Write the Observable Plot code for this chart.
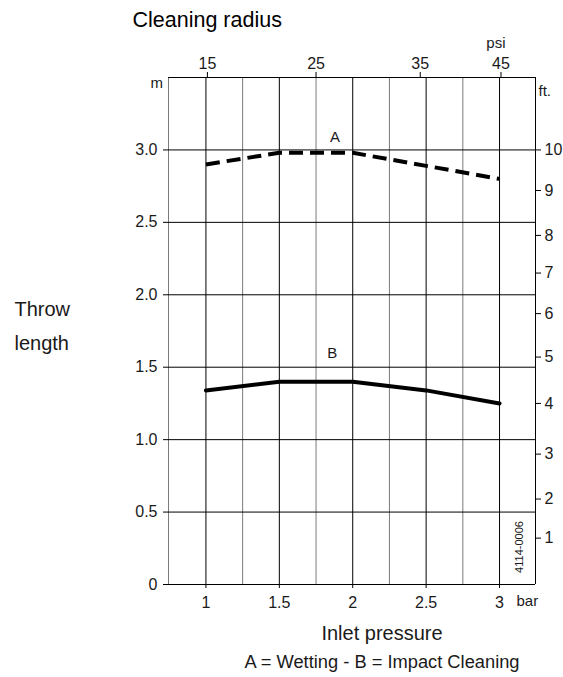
<!DOCTYPE html>
<html>
<head>
<meta charset="utf-8">
<script src="https://cdn.jsdelivr.net/npm/d3@7"></script>
<script src="https://cdn.jsdelivr.net/npm/@observablehq/plot@0.6"></script>
<style>
  html, body { margin: 0; padding: 0; background: #fff; }
  #chart svg { display: block; }
</style>
</head>
<body>
<div id="chart"></div>
<script>
// ---- Data ----
const pressureBar = [1, 1.5, 2, 2.5, 3];
const wettingA = [2.9, 2.98, 2.98, 2.89, 2.8];
const impactB = [1.34, 1.40, 1.40, 1.34, 1.25];

const seriesLabels = ["A", "B"];
const seriesLabelBar = [1.88, 1.86];
const seriesLabelM = [3.09, 1.6];

const barTicks = [1, 1.5, 2, 2.5, 3];
const barTickLabels = ["1", "1.5", "2", "2.5", "3"];
const minorGrid = [1.25, 1.75, 2.25, 2.75];
const mTicks = [0, 0.5, 1.0, 1.5, 2.0, 2.5, 3.0];
const mTickLabels = ["0", "0.5", "1.0", "1.5", "2.0", "2.5", "3.0"];
const psiTickLabels = ["15", "25", "35", "45"];
const psiTickBar = [1.01, 1.75, 2.46, 3.01];
const ftTickLabels = ["1", "2", "3", "4", "5", "6", "7", "8", "9", "10"];
const ftTickM = [0.32, 0.59, 0.90, 1.25, 1.57, 1.87, 2.15, 2.41, 2.72, 3.0];

const xDomain = [0.745, 3.245];
const yDomain = [0, 3.5];
const figureCode = "4114-0006";

// ---- Build tables ----
const lineA = pressureBar.map((x, i) => ({x, y: wettingA[i]}));
const lineB = pressureBar.map((x, i) => ({x, y: impactB[i]}));
const labels = seriesLabels.map((t, i) => ({t, x: seriesLabelBar[i], y: seriesLabelM[i]}));
const barMap = new Map(barTicks.map((d, i) => [d, barTickLabels[i]]));
const mMap = new Map(mTicks.map((d, i) => [d, mTickLabels[i]]));
const psiMap = new Map(psiTickBar.map((d, i) => [d, psiTickLabels[i]]));
const ftMap = new Map(ftTickM.map((d, i) => [d, ftTickLabels[i]]));

const ink = "#1a1a1a";
const FS = 16;
const FONT = "'Liberation Sans', Arial, Helvetica, sans-serif";

const note = (text, anchor, dx, dy, extra = {}) =>
  Plot.text([text], {text: d => d, frameAnchor: anchor, dx, dy, fill: ink, fontSize: 20, ...extra});

const chart = Plot.plot({
  width: 563,
  height: 677,
  marginLeft: 168,
  marginRight: 28,
  marginTop: 77,
  marginBottom: 93,
  style: {fontFamily: FONT, background: "#fff", color: ink},
  x: {type: "linear", domain: xDomain},
  y: {type: "linear", domain: yDomain},
  marks: [
    Plot.ruleX(minorGrid, {stroke: "#7a7a7a", strokeWidth: 1}),
    Plot.ruleX([xDomain[0]], {stroke: "#7a7a7a", strokeWidth: 1}),
    Plot.ruleX(barTicks, {stroke: "#000", strokeWidth: 1}),
    Plot.ruleX([xDomain[1]], {stroke: "#000", strokeWidth: 1}),
    Plot.ruleY(mTicks.filter(d => d > 0), {stroke: "#000", strokeWidth: 1}),
    Plot.ruleY(yDomain, {stroke: "#000", strokeWidth: 1}),
    Plot.axisY(mTicks, {anchor: "left", tickSize: 5, tickPadding: 6, tickFormat: d => mMap.get(d), fontSize: FS, label: null, stroke: "#000"}),
    Plot.axisX(barTicks, {anchor: "bottom", tickSize: 4, tickPadding: 8, tickFormat: d => barMap.get(d), fontSize: FS, label: null, stroke: "#000"}),
    Plot.axisX(psiTickBar, {anchor: "top", tickSize: 6, tickPadding: 3, tickFormat: d => psiMap.get(d), fontSize: FS, label: null, stroke: "#000"}),
    Plot.axisY(ftTickM, {anchor: "right", tickSize: 5, tickPadding: 4, tickFormat: d => ftMap.get(d), fontSize: FS, label: null, stroke: "#000"}),
    Plot.line(lineA, {x: "x", y: "y", stroke: "#000", strokeWidth: 4, strokeDasharray: "14,7", strokeLinecap: "butt"}),
    Plot.line(lineB, {x: "x", y: "y", stroke: "#000", strokeWidth: 4, strokeLinejoin: "round"}),
    Plot.text(labels, {x: "x", y: "y", text: "t", fill: ink, fontSize: 15}),
    note("Cleaning radius", "top-left", -36, -66, {textAnchor: "start", fontSize: 21.5, fontWeight: 500, fill: "#000"}),
    note("psi", "top-right", -30, -40, {fontSize: 15}),
    note("m", "top-left", -18, 0, {fontSize: 15}),
    note("ft.", "top-right", 3, 8, {textAnchor: "start", fontSize: 15}),
    note("bar", "bottom-right", -19, 21, {textAnchor: "start", fontSize: 15}),
    note("Inlet pressure", "bottom", 30, 55, {fontSize: 20, style: "word-spacing: 3px"}),
    note("A = Wetting - B = Impact Cleaning", "bottom", 30, 83, {fontSize: 18.3}),
    note("Throw", "left", -154, -21, {textAnchor: "start"}),
    note("length", "left", -154, 13, {textAnchor: "start"})
  ]
});

// small rotated figure code inside the last column
d3.select(chart).append("text")
  .attr("transform", "translate(520,547) rotate(-90)")
  .attr("text-anchor", "middle")
  .attr("dominant-baseline", "middle")
  .attr("font-family", FONT)
  .attr("font-size", 11)
  .attr("fill", ink)
  .text(figureCode);

document.getElementById("chart").appendChild(chart);
</script>
</body>
</html>
